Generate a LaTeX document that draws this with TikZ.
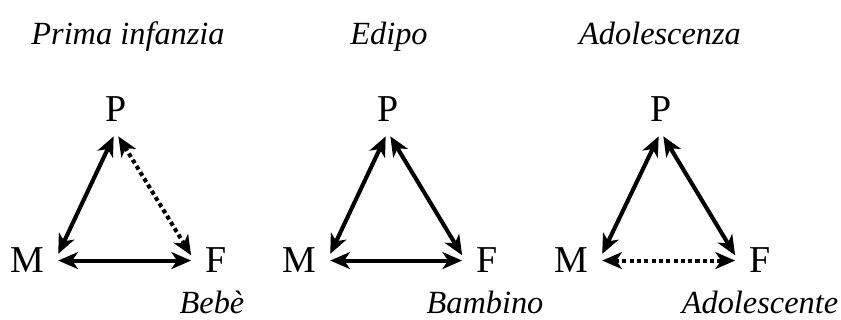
\documentclass[tikz,border=0pt]{standalone}
\usepackage{fontspec}
\setmainfont{Liberation Serif}
\usetikzlibrary{arrows.meta}

\begin{document}
\begin{tikzpicture}[x=0.025cm, y=-0.025cm,
  vertex/.style={font=\fontsize{27}{32}\selectfont, inner sep=10pt, anchor=base},
  phase/.style={font=\fontsize{23}{28}\selectfont\itshape, anchor=base},
  rel/.style={line width=2.9pt,
    {Stealth[length=14pt,width=12pt,inset=4pt]}-{Stealth[length=14pt,width=12pt,inset=4pt]}},
  weak/.style={rel, dash pattern=on 2.9pt off 2.3pt}]

  % Fix the size of the picture
  \useasboundingbox (0,0) rectangle (841,320);

  % Baselines of the rows
  \def\yT{45}
  \def\yP{122}
  \def\yMF{273}
  \def\yL{313}

  % Titles of the three phases
  \node[phase] (t1) at (128,\yT) {Prima infanzia};
  \node[phase] (t2) at (389,\yT) {Edipo};
  \node[phase] (t3) at (660,\yT) {Adolescenza};

  % First triangle: prima infanzia
  \node[vertex] (P1) at (116,\yP) {P};
  \node[vertex] (M1) at (27,\yMF) {M};
  \node[vertex] (F1) at (216,\yMF) {F};
  \draw[rel] (P1.-95) -- (M1.12);
  \draw[weak] (P1.-85) -- (F1.168);
  \draw[rel] (M1.east) -- (F1.west);
  \node[phase] (l1) at (212,\yL) {Bebè};

  % Second triangle: Edipo
  \node[vertex] (P2) at (388,\yP) {P};
  \node[vertex] (M2) at (299,\yMF) {M};
  \node[vertex] (F2) at (487,\yMF) {F};
  \draw[rel] (P2.-95) -- (M2.12);
  \draw[rel] (P2.-85) -- (F2.168);
  \draw[rel] (M2.east) -- (F2.west);
  \node[phase] (l2) at (485,\yL) {Bambino};

  % Third triangle: adolescenza
  \node[vertex] (P3) at (661,\yP) {P};
  \node[vertex] (M3) at (571,\yMF) {M};
  \node[vertex] (F3) at (760,\yMF) {F};
  \draw[rel] (P3.-95) -- (M3.12);
  \draw[rel] (P3.-85) -- (F3.168);
  \draw[weak] (M3.east) -- (F3.west);
  \node[phase] (l3) at (760,\yL) {Adolescente};

\end{tikzpicture}
\end{document}
